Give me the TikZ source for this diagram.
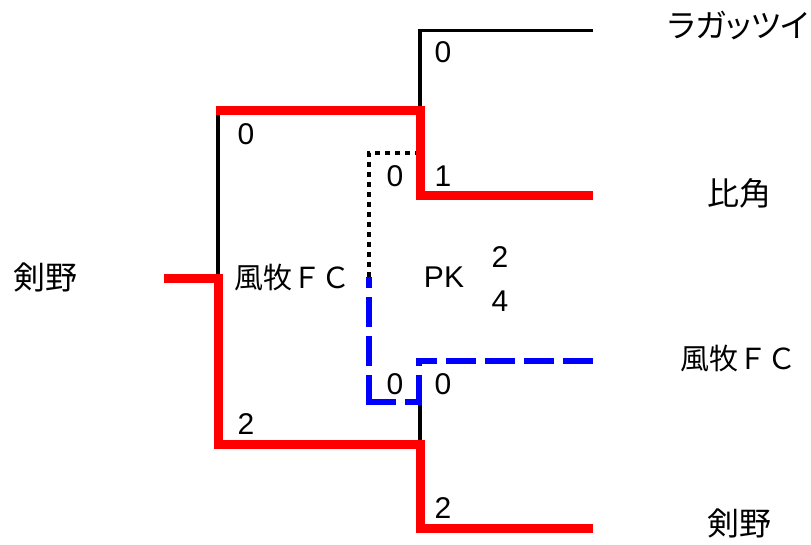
\documentclass[tikz,border=0pt]{standalone}
\usepackage{fontspec}
\setmainfont{Liberation Sans}
\newfontfamily\jpfont[RawFeature=+palt]{Noto Sans CJK JP}
\newfontfamily\jpfontfw{Noto Sans CJK JP}
\begin{document}
\begin{tikzpicture}[x=1pt,y=-1pt,
  lbl/.style={inner sep=0pt, font=\fontsize{30}{30}\selectfont},
  jp/.style={inner sep=0pt, font=\fontsize{32}{32}\selectfont\jpfont},
  jpfw/.style={inner sep=0pt, font=\fontsize{29}{29}\selectfont\jpfontfw},
  blk/.style={line width=3.5pt, black, line join=miter},
  win/.style={line width=9pt, red, line join=miter},
  pkwin/.style={line width=6pt, blue, dash pattern=on 30pt off 9pt},
  lose/.style={line width=4pt, black, dash pattern=on 5pt off 5pt, line join=miter}]
\useasboundingbox (0,0) rectangle (811,544);
% coordinates
\coordinate (r1) at (593,30.5);
\coordinate (q1) at (420,30.5);
\coordinate (s1) at (420,110.5);
\coordinate (q2) at (420,195);
\coordinate (r2) at (593,195);
\coordinate (f1) at (216,110.5);
\coordinate (fj) at (218,110.5);
\coordinate (c) at (218,278);
\coordinate (root) at (164,278);
\coordinate (fb) at (218,444);
\coordinate (s2) at (420,444);
\coordinate (q4) at (420,528);
\coordinate (r4) at (593,528);
\coordinate (r3) at (593,360.5);
\coordinate (q3) at (419,360.5);
\coordinate (bR) at (419,401.5);
\coordinate (bL) at (369,401.5);
\coordinate (bT) at (369,277);
\coordinate (dT) at (369,153);
\coordinate (dR) at (416,153);
\coordinate (bk) at (420,403);
% black lines
\draw[blk] (r1) -- (q1) -- (s1);
\draw[blk] (fj) -- (c);
\draw[blk] (bk) -- (s2);
% dotted
\draw[lose] (bT) -- (dT) -- (dR);
% blue dashed
\draw[pkwin] ([yshift=-3pt]bL) -- (bT);
\draw[pkwin] ([xshift=-3pt]bL) -- ([xshift=3pt]bR);
\draw[pkwin] ([yshift=-3pt]bR) -- (q3);
\draw[pkwin] (r3) -- ([xshift=-3pt]q3);
% red
\draw[win] (f1) -- (s1) -- (q2) -- (r2);
\draw[win] (root) -- (c) -- (fb) -- (s2) -- (q4) -- (r4);
% labels
\node[jp] (t0) at (45.5,277.5) {剣野};
\node[jpfw] (t1) at (292.5,277) {風牧ＦＣ};
\node[lbl] (n1) at (246,134) {0};
\node[lbl] (n2) at (246,424.5) {2};
\node[lbl] (n3) at (443,52) {0};
\node[lbl] (n4) at (395,176) {0};
\node[lbl] (n5) at (443,176) {1};
\node[lbl] (n6) at (395,384) {0};
\node[lbl] (n7) at (443,384) {0};
\node[lbl] (n8) at (443,508) {2};
\node[lbl] (pk) at (444,277) {PK};
\node[lbl] (pk1) at (500,257) {2};
\node[lbl] (pk2) at (500,301) {4};
\node[jp] (e1) at (738,25.5) {ラガッツイ};
\node[jp] (e2) at (739,193.5) {比角};
\node[jpfw] (e3) at (738,358) {風牧ＦＣ};
\node[jp] (e4) at (739,523) {剣野};
\end{tikzpicture}
\end{document}
